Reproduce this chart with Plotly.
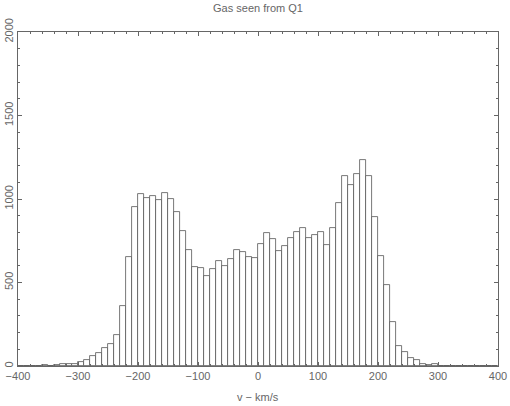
import plotly.graph_objects as go

# histogram of line-of-sight velocity, 10 km/s bins from -400 to 400
bin_left = list(range(-400, 400, 10))
counts = [1, 1, 2, 3, 4, 3, 5, 10, 12, 14,
          26, 36, 60, 76, 110, 130, 184, 358, 651, 950,
          1032, 1008, 1018, 994, 1034, 1000, 921, 807, 697, 592,
          588, 536, 582, 628, 600, 642, 697, 681, 651, 647,
          732, 798, 760, 689, 717, 765, 802, 826, 768, 784,
          804, 726, 826, 974, 1136, 1084, 1152, 1232, 1140, 892,
          656, 488, 262, 120, 82, 50, 36, 10, 8, 10,
          3, 2, 3, 2, 2, 1, 2, 1, 1, 0]
bin_centers = [b + 5 for b in bin_left]

x_ticks = [-400, -300, -200, -100, 0, 100, 200, 300, 400]
x_ticktext = ["\u2212400", "\u2212300", "\u2212200", "\u2212100", "0", "100", "200", "300", "400"]
y_ticks = [0, 500, 1000, 1500, 2000]

ink = "#666666"
font = dict(family="Liberation Sans", size=11, color=ink)

fig = go.Figure()
fig.add_trace(go.Bar(
    x=bin_centers, y=counts, width=10,
    marker=dict(color="white", line=dict(color="#555555", width=0.8)),
    showlegend=False,
))

fig.update_layout(
    width=510, height=406,
    margin=dict(l=18, r=12, t=32, b=40),
    paper_bgcolor="white", plot_bgcolor="white",
    font=font,
    bargap=0,
    title=dict(text="Gas seen from Q1", x=0.5, xref="paper", xanchor="center",
               y=1 - 8 / 406, yref="container", yanchor="middle",
               font=dict(family="Liberation Sans", size=11, color=ink)),
    xaxis=dict(range=[-400, 400], tickvals=x_ticks, ticktext=x_ticktext,
               ticks="inside", ticklen=4, tickcolor=ink, tickwidth=1,
               minor=dict(dtick=20, ticks="inside", ticklen=2, tickcolor=ink),
               showline=True, linecolor=ink, linewidth=1, mirror="ticks",
               showgrid=False, zeroline=False, automargin=False,
               tickfont=font),
    yaxis=dict(range=[0, 2000], tickvals=y_ticks, tickangle=-90,
               ticks="inside", ticklen=4, tickcolor=ink, tickwidth=1,
               minor=dict(dtick=100, ticks="inside", ticklen=2, tickcolor=ink),
               showline=True, linecolor=ink, linewidth=1, mirror="ticks",
               showgrid=False, zeroline=False, automargin=False,
               tickfont=font),
    annotations=[dict(text="v \u2212 km/s", x=0.5, xref="paper", y=-31 / 334,
                      yref="paper", yanchor="middle", showarrow=False,
                      font=font)],
)

# page body has a default 8px margin; drop it so the figure sits at the corner
fig.write_html("out.html", config={"displayModeBar": False},
               post_script="document.body.style.margin='0';")
